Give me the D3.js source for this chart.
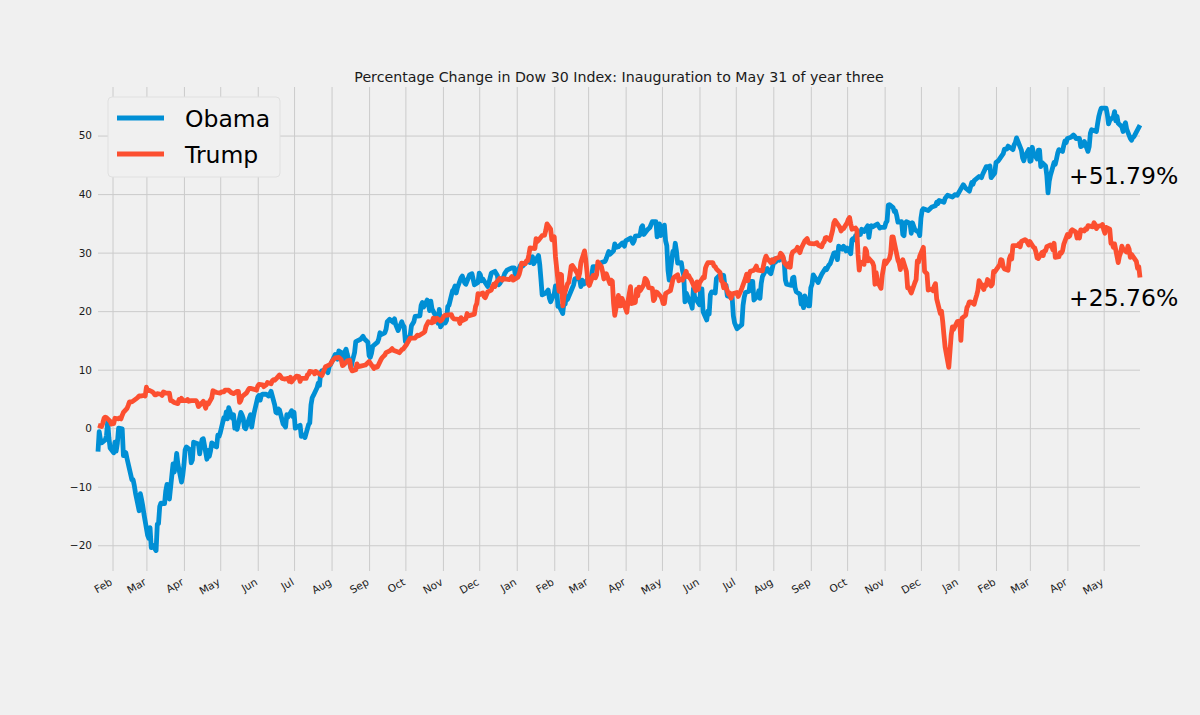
<!DOCTYPE html>
<html><head><meta charset="utf-8">
<script src="https://cdn.jsdelivr.net/npm/d3@7/dist/d3.min.js"></script>
<style>html,body{margin:0;padding:0;background:#f0f0f0;}svg{display:block;font-family:"DejaVu Sans",sans-serif;}</style>
</head><body>
<svg id="chart" width="1200" height="715"></svg>
<script>
// ---------- DATA ----------
const chartTitle = "Percentage Change in Dow 30 Index: Inauguration to May 31 of year three";
const seriesNames = ["Obama", "Trump"];
const seriesColors = ["#008fd5", "#fc4f30"];
const yTickValues = [-20, -10, 0, 10, 20, 30, 40, 50];
const monthLabels = ["Jan","Feb","Mar","Apr","May","Jun","Jul","Aug","Sep","Oct","Nov","Dec"];

// Obama: % change of Dow 30 vs. last close before inauguration (2009-2011)
const obama = [
["2009-01-20",-4.0],["2009-01-21",-0.6],["2009-01-22",-1.9],["2009-01-23",-2.5],["2009-01-26",-2.0],["2009-01-27",-1.3],["2009-01-28",1.1],["2009-01-29",-1.6],["2009-01-30",-3.4],
["2009-02-02",-4.2],["2009-02-03",-2.4],["2009-02-04",-3.9],["2009-02-05",-2.6],["2009-02-06",0.0],["2009-02-09",-0.1],["2009-02-10",-4.7],["2009-02-11",-4.1],["2009-02-12",-4.2],["2009-02-13",-5.2],["2009-02-17",-8.8],["2009-02-18",-8.8],["2009-02-19",-9.8],["2009-02-20",-11.1],["2009-02-23",-14.1],["2009-02-24",-11.2],["2009-02-25",-12.2],["2009-02-26",-13.3],["2009-02-27",-14.7],
["2009-03-02",-18.3],["2009-03-03",-18.8],["2009-03-04",-17.0],["2009-03-05",-20.4],["2009-03-06",-20.0],["2009-03-09",-20.9],["2009-03-10",-16.4],["2009-03-11",-16.3],["2009-03-12",-13.4],["2009-03-13",-12.8],["2009-03-16",-12.9],["2009-03-17",-10.7],["2009-03-18",-9.6],["2009-03-19",-10.6],["2009-03-20",-12.1],["2009-03-23",-6.1],["2009-03-24",-7.5],["2009-03-25",-6.4],["2009-03-26",-4.3],["2009-03-27",-6.1],["2009-03-30",-9.2],["2009-03-31",-8.1],
["2009-04-01",-6.3],["2009-04-02",-3.7],["2009-04-03",-3.2],["2009-04-06",-3.7],["2009-04-07",-5.9],["2009-04-08",-5.4],["2009-04-09",-2.4],["2009-04-13",-2.7],["2009-04-14",-4.4],["2009-04-15",-3.0],["2009-04-16",-1.9],["2009-04-17",-1.8],["2009-04-20",-5.3],["2009-04-21",-3.8],["2009-04-22",-4.8],["2009-04-23",-3.9],["2009-04-24",-2.5],["2009-04-27",-3.1],["2009-04-28",-3.2],["2009-04-29",-1.2],["2009-04-30",-1.4],
["2009-05-01",-0.8],["2009-05-04",1.8],["2009-05-05",1.6],["2009-05-06",2.8],["2009-05-07",1.6],["2009-05-08",3.5],["2009-05-11",1.7],["2009-05-12",2.3],["2009-05-13",0.0],["2009-05-14",0.6],["2009-05-15",-0.2],["2009-05-18",2.7],["2009-05-19",2.3],["2009-05-20",1.7],["2009-05-21",0.1],["2009-05-22",-0.1],["2009-05-26",2.3],["2009-05-27",0.2],["2009-05-28",1.5],["2009-05-29",2.6],
["2009-06-01",5.3],["2009-06-02",5.6],["2009-06-03",4.8],["2009-06-04",5.7],["2009-06-05",5.8],["2009-06-08",5.8],["2009-06-10",5.5],["2009-06-12",6.3],["2009-06-15",4.0],["2009-06-16",2.7],["2009-06-17",2.6],["2009-06-18",3.3],["2009-06-19",3.1],["2009-06-22",0.7],["2009-06-23",0.5],["2009-06-24",0.2],["2009-06-25",2.3],["2009-06-26",1.9],["2009-06-29",3.0],["2009-06-30",2.0],
["2009-07-01",2.7],["2009-07-02",0.0],["2009-07-06",0.5],["2009-07-07",-1.4],["2009-07-08",-1.2],["2009-07-09",-1.2],["2009-07-10",-1.6],["2009-07-13",0.6],["2009-07-14",0.9],["2009-07-15",4.0],["2009-07-16",5.2],["2009-07-17",5.6],["2009-07-20",6.9],["2009-07-21",7.7],["2009-07-22",7.3],["2009-07-23",9.5],["2009-07-24",9.8],["2009-07-27",10.0],["2009-07-29",9.5],["2009-07-30",10.5],["2009-07-31",10.8],
["2009-08-03",12.1],["2009-08-04",12.6],["2009-08-05",12.1],["2009-08-06",11.8],["2009-08-07",13.2],["2009-08-10",12.8],["2009-08-11",11.6],["2009-08-12",13.1],["2009-08-13",13.5],["2009-08-14",12.6],["2009-08-17",10.3],["2009-08-18",11.3],["2009-08-19",12.1],["2009-08-20",12.9],["2009-08-21",14.8],["2009-08-25",15.2],["2009-08-27",15.7],["2009-08-28",15.3],["2009-08-31",14.7],
["2009-09-01",12.4],["2009-09-02",12.1],["2009-09-03",12.8],["2009-09-04",14.0],["2009-09-08",14.7],["2009-09-09",15.3],["2009-09-10",16.3],["2009-09-11",16.0],["2009-09-14",16.3],["2009-09-15",16.9],["2009-09-16",18.2],["2009-09-18",18.6],["2009-09-21",18.1],["2009-09-22",18.7],["2009-09-23",17.7],["2009-09-24",17.2],["2009-09-25",16.7],["2009-09-28",18.2],["2009-09-29",17.6],["2009-09-30",17.3],
["2009-10-01",14.8],["2009-10-02",14.6],["2009-10-05",15.9],["2009-10-06",17.5],["2009-10-08",18.2],["2009-10-09",19.1],["2009-10-13",19.2],["2009-10-14",21.0],["2009-10-15",21.5],["2009-10-16",20.7],["2009-10-19",21.9],["2009-10-20",21.3],["2009-10-21",20.1],["2009-10-22",21.7],["2009-10-23",20.4],["2009-10-26",19.2],["2009-10-27",19.3],["2009-10-28",17.9],["2009-10-29",20.3],["2009-10-30",17.3],
["2009-11-02",18.2],["2009-11-03",18.0],["2009-11-04",18.4],["2009-11-05",20.8],["2009-11-06",21.0],["2009-11-09",23.5],["2009-11-10",23.7],["2009-11-11",24.3],["2009-11-12",23.1],["2009-11-13",24.0],["2009-11-16",25.7],["2009-11-17",26.0],["2009-11-19",24.8],["2009-11-20",24.6],["2009-11-23",26.2],["2009-11-25",26.4],["2009-11-27",24.5],["2009-11-30",24.9],
["2009-12-01",26.5],["2009-12-02",26.2],["2009-12-03",25.2],["2009-12-04",25.5],["2009-12-08",24.2],["2009-12-09",24.8],["2009-12-10",25.7],["2009-12-11",26.5],["2009-12-14",26.8],["2009-12-16",26.1],["2009-12-17",24.5],["2009-12-18",24.7],["2009-12-21",25.8],["2009-12-22",26.4],["2009-12-24",27.0],["2009-12-28",27.4],["2009-12-30",27.4],["2009-12-31",25.9],
["2010-01-04",27.8],["2010-01-06",27.7],["2010-01-08",28.2],["2010-01-11",28.8],["2010-01-12",28.3],["2010-01-14",29.3],["2010-01-15",28.1],["2010-01-19",29.5],["2010-01-20",28.0],["2010-01-21",25.5],["2010-01-22",22.8],["2010-01-25",23.1],["2010-01-27",23.6],["2010-01-28",22.2],["2010-01-29",21.6],
["2010-02-01",23.0],["2010-02-02",24.3],["2010-02-03",24.0],["2010-02-04",20.8],["2010-02-05",20.9],["2010-02-08",19.6],["2010-02-09",21.5],["2010-02-10",21.2],["2010-02-11",22.5],["2010-02-12",22.0],["2010-02-16",24.0],["2010-02-17",24.5],["2010-02-18",25.5],["2010-02-19",25.6],["2010-02-22",25.4],["2010-02-23",24.2],["2010-02-24",25.3],["2010-02-25",24.6],["2010-02-26",24.7],
["2010-03-01",25.6],["2010-03-03",25.6],["2010-03-04",26.1],["2010-03-05",27.6],["2010-03-09",27.6],["2010-03-11",28.1],["2010-03-12",28.3],["2010-03-15",28.5],["2010-03-16",29.0],["2010-03-17",29.6],["2010-03-18",30.2],["2010-03-19",29.7],["2010-03-22",30.3],["2010-03-23",31.5],["2010-03-24",30.9],["2010-03-26",31.0],["2010-03-29",31.6],["2010-03-30",31.7],["2010-03-31",31.1],
["2010-04-01",32.0],["2010-04-05",32.5],["2010-04-07",31.6],["2010-04-08",32.0],["2010-04-09",32.8],["2010-04-12",32.9],["2010-04-13",33.1],["2010-04-14",34.3],["2010-04-15",34.6],["2010-04-16",33.1],["2010-04-19",33.9],["2010-04-21",34.3],["2010-04-23",35.3],["2010-04-26",35.3],["2010-04-27",32.7],["2010-04-28",33.4],["2010-04-29",34.9],["2010-04-30",32.9],
["2010-05-03",34.7],["2010-05-04",32.0],["2010-05-05",31.2],["2010-05-06",27.0],["2010-05-07",25.3],["2010-05-10",30.2],["2010-05-11",29.8],["2010-05-12",31.6],["2010-05-13",30.2],["2010-05-14",28.2],["2010-05-17",28.3],["2010-05-18",26.9],["2010-05-19",26.1],["2010-05-20",21.6],["2010-05-21",23.1],["2010-05-24",21.6],["2010-05-25",21.3],["2010-05-26",20.5],["2010-05-27",23.9],["2010-05-28",22.4],
["2010-06-01",21.1],["2010-06-02",23.8],["2010-06-03",23.8],["2010-06-04",19.9],["2010-06-07",18.5],["2010-06-08",20.0],["2010-06-09",19.5],["2010-06-10",22.8],["2010-06-11",23.3],["2010-06-14",23.1],["2010-06-15",25.6],["2010-06-17",26.0],["2010-06-18",26.2],["2010-06-21",26.1],["2010-06-22",24.3],["2010-06-23",24.4],["2010-06-24",22.6],["2010-06-28",22.4],["2010-06-29",19.2],["2010-06-30",18.0],
["2010-07-01",17.5],["2010-07-02",17.0],["2010-07-06",17.7],["2010-07-07",21.0],["2010-07-08",22.4],["2010-07-09",23.2],["2010-07-12",23.4],["2010-07-13",25.1],["2010-07-15",25.1],["2010-07-16",21.9],["2010-07-19",22.6],["2010-07-20",23.5],["2010-07-21",22.2],["2010-07-22",24.7],["2010-07-23",25.9],["2010-07-26",27.1],["2010-07-27",27.3],["2010-07-28",26.8],["2010-07-30",26.4],
["2010-08-02",28.9],["2010-08-03",28.4],["2010-08-04",29.0],["2010-08-06",28.7],["2010-08-09",29.2],["2010-08-10",28.5],["2010-08-11",25.3],["2010-08-12",24.6],["2010-08-16",24.4],["2010-08-17",25.7],["2010-08-18",25.8],["2010-08-19",24.0],["2010-08-20",23.3],["2010-08-23",22.9],["2010-08-24",21.2],["2010-08-25",21.5],["2010-08-26",20.6],["2010-08-27",22.6],["2010-08-30",20.9],["2010-08-31",20.9],
["2010-09-01",24.0],["2010-09-02",24.6],["2010-09-03",26.2],["2010-09-07",24.9],["2010-09-08",25.4],["2010-09-10",26.3],["2010-09-13",27.3],["2010-09-14",27.1],["2010-09-16",27.9],["2010-09-17",28.1],["2010-09-20",29.9],["2010-09-21",30.0],["2010-09-22",29.7],["2010-09-23",28.8],["2010-09-24",31.1],["2010-09-27",30.6],["2010-09-28",31.1],["2010-09-30",30.3],
["2010-10-01",30.8],["2010-10-04",29.8],["2010-10-05",32.2],["2010-10-06",32.4],["2010-10-07",32.2],["2010-10-08",32.9],["2010-10-12",33.1],["2010-10-13",34.0],["2010-10-15",33.6],["2010-10-18",34.6],["2010-10-19",32.6],["2010-10-20",34.1],["2010-10-21",34.6],["2010-10-22",34.4],["2010-10-26",34.9],["2010-10-28",34.2],["2010-10-29",34.3],
["2010-11-01",34.3],["2010-11-02",35.1],["2010-11-03",35.4],["2010-11-04",38.1],["2010-11-05",38.2],["2010-11-08",37.7],["2010-11-09",37.0],["2010-11-10",37.1],["2010-11-11",36.3],["2010-11-12",35.2],["2010-11-15",35.3],["2010-11-16",33.1],["2010-11-17",32.9],["2010-11-18",35.0],["2010-11-19",35.3],["2010-11-22",35.0],["2010-11-23",33.3],["2010-11-24",35.1],["2010-11-26",33.9],["2010-11-29",33.5],["2010-11-30",32.9],
["2010-12-01",35.9],["2010-12-02",37.2],["2010-12-03",37.5],["2010-12-07",37.2],["2010-12-10",37.8],["2010-12-13",38.0],["2010-12-14",38.6],["2010-12-15",38.4],["2010-12-16",38.9],["2010-12-20",38.6],["2010-12-21",39.3],["2010-12-23",39.8],["2010-12-27",39.5],["2010-12-29",39.9],["2010-12-31",39.8],
["2011-01-03",40.9],["2011-01-05",41.6],["2011-01-07",41.0],["2011-01-10",40.5],["2011-01-12",42.0],["2011-01-13",41.7],["2011-01-14",42.3],["2011-01-18",43.0],["2011-01-20",42.8],["2011-01-21",43.4],["2011-01-24",44.7],["2011-01-26",44.7],["2011-01-27",44.8],["2011-01-28",42.8],["2011-01-31",43.6],
["2011-02-01",45.4],["2011-02-03",45.7],["2011-02-04",46.0],["2011-02-07",46.9],["2011-02-08",47.7],["2011-02-10",47.7],["2011-02-11",48.2],["2011-02-15",47.6],["2011-02-16",48.4],["2011-02-17",48.8],["2011-02-18",49.6],["2011-02-22",47.5],["2011-02-23",46.2],["2011-02-24",45.7],["2011-02-25",46.5],["2011-02-28",47.6],
["2011-03-01",45.6],["2011-03-02",45.7],["2011-03-03",48.0],["2011-03-04",47.0],["2011-03-07",46.0],["2011-03-08",47.5],["2011-03-09",47.5],["2011-03-10",44.7],["2011-03-11",45.4],["2011-03-14",44.8],["2011-03-15",43.2],["2011-03-16",40.2],["2011-03-17",42.2],["2011-03-18",43.2],["2011-03-21",45.4],["2011-03-22",45.1],["2011-03-23",46.0],["2011-03-24",47.0],["2011-03-25",47.6],["2011-03-28",47.3],["2011-03-29",48.3],["2011-03-30",49.1],["2011-03-31",48.8],
["2011-04-01",49.5],["2011-04-04",49.7],["2011-04-06",50.1],["2011-04-07",49.9],["2011-04-08",49.5],["2011-04-11",49.5],["2011-04-12",48.1],["2011-04-13",48.2],["2011-04-14",48.4],["2011-04-15",49.0],["2011-04-18",47.3],["2011-04-19",48.1],["2011-04-20",50.4],["2011-04-21",51.0],["2011-04-25",50.7],["2011-04-26",52.1],["2011-04-27",53.3],["2011-04-28",54.1],["2011-04-29",54.7],
["2011-05-02",54.7],["2011-05-03",54.7],["2011-05-04",53.6],["2011-05-05",52.0],["2011-05-06",52.6],["2011-05-09",53.2],["2011-05-10",54.1],["2011-05-11",52.5],["2011-05-12",53.3],["2011-05-13",52.1],["2011-05-16",51.5],["2011-05-17",50.7],["2011-05-18",51.7],["2011-05-19",52.2],["2011-05-20",51.1],["2011-05-23",49.5],["2011-05-24",49.2],["2011-05-25",49.7],["2011-05-26",49.8],["2011-05-27",50.2],["2011-05-31",51.79]
];

// Trump: % change of Dow 30 vs. last close before inauguration (2017-2019), drawn on the same calendar
const trump = [
["2017-01-20",0.5],["2017-01-23",0.3],["2017-01-24",0.9],["2017-01-25",1.7],["2017-01-26",1.9],["2017-01-27",1.8],["2017-01-30",1.2],["2017-01-31",0.7],["2017-02-01",0.8],["2017-02-02",0.8],["2017-02-03",1.7],["2017-02-06",1.6],["2017-02-07",1.8],["2017-02-08",1.6],["2017-02-09",2.2],["2017-02-10",2.7],["2017-02-13",3.4],["2017-02-14",3.9],["2017-02-15",4.5],["2017-02-17",4.5],["2017-02-21",5.1],["2017-02-22",5.3],["2017-02-23",5.5],["2017-02-24",5.5],["2017-02-27",5.6],["2017-02-28",5.5],
["2017-03-01",7.0],["2017-03-02",6.4],["2017-03-03",6.5],["2017-03-06",6.2],["2017-03-07",6.0],["2017-03-08",5.7],["2017-03-09",5.7],["2017-03-10",5.9],["2017-03-13",5.8],["2017-03-14",5.6],["2017-03-15",6.2],["2017-03-16",6.1],["2017-03-17",6.0],["2017-03-20",6.0],["2017-03-21",4.7],["2017-03-22",4.7],["2017-03-24",4.4],["2017-03-27",4.2],["2017-03-28",4.9],["2017-03-29",4.7],["2017-03-30",5.1],["2017-03-31",4.7],
["2017-04-03",4.7],["2017-04-04",4.9],["2017-04-05",4.6],["2017-04-07",4.7],["2017-04-11",4.7],["2017-04-12",4.4],["2017-04-13",3.7],["2017-04-17",4.6],["2017-04-18",4.0],["2017-04-19",3.4],["2017-04-20",4.3],["2017-04-21",4.1],["2017-04-24",5.2],["2017-04-25",6.4],["2017-04-26",6.3],["2017-04-28",6.1],
["2017-05-01",6.0],["2017-05-02",6.2],["2017-05-04",6.2],["2017-05-05",6.5],["2017-05-08",6.5],["2017-05-10",6.1],["2017-05-12",5.9],["2017-05-15",6.3],["2017-05-16",6.3],["2017-05-17",4.4],["2017-05-18",4.7],["2017-05-19",5.4],["2017-05-22",5.9],["2017-05-23",6.1],["2017-05-24",6.5],["2017-05-25",6.8],["2017-05-26",6.8],["2017-05-30",6.6],["2017-05-31",6.5],
["2017-06-01",7.2],["2017-06-02",7.5],["2017-06-05",7.4],["2017-06-06",7.1],["2017-06-08",7.4],["2017-06-09",7.8],["2017-06-12",7.6],["2017-06-13",8.1],["2017-06-14",8.3],["2017-06-15",8.2],["2017-06-16",8.4],["2017-06-19",9.1],["2017-06-20",8.8],["2017-06-21",8.5],["2017-06-23",8.4],["2017-06-26",8.5],["2017-06-27",8.0],["2017-06-28",8.7],["2017-06-29",7.9],["2017-06-30",8.2],
["2017-07-03",8.9],["2017-07-05",8.8],["2017-07-06",8.0],["2017-07-07",8.5],["2017-07-11",8.5],["2017-07-12",9.1],["2017-07-13",9.2],["2017-07-14",9.7],["2017-07-17",9.6],["2017-07-18",9.3],["2017-07-19",9.7],["2017-07-21",9.4],["2017-07-24",9.0],["2017-07-25",9.5],["2017-07-26",10.0],["2017-07-27",10.5],["2017-07-28",10.6],["2017-07-31",10.9],
["2017-08-01",11.3],["2017-08-02",11.6],["2017-08-04",12.0],["2017-08-07",12.1],["2017-08-08",11.9],["2017-08-09",11.7],["2017-08-10",10.7],["2017-08-11",10.8],["2017-08-14",11.5],["2017-08-16",11.6],["2017-08-17",10.2],["2017-08-18",9.8],["2017-08-21",10.0],["2017-08-22",11.0],["2017-08-23",10.5],["2017-08-25",10.6],["2017-08-29",10.8],["2017-08-31",11.2],
["2017-09-01",11.4],["2017-09-05",10.2],["2017-09-06",10.5],["2017-09-07",10.4],["2017-09-08",10.5],["2017-09-11",11.8],["2017-09-12",12.1],["2017-09-14",12.5],["2017-09-15",12.9],["2017-09-18",13.2],["2017-09-20",13.6],["2017-09-21",13.3],["2017-09-25",13.0],["2017-09-26",12.9],["2017-09-28",13.4],["2017-09-29",13.5],
["2017-10-02",14.3],["2017-10-03",14.7],["2017-10-05",15.4],["2017-10-09",15.4],["2017-10-11",15.9],["2017-10-12",15.8],["2017-10-16",16.3],["2017-10-17",16.5],["2017-10-18",17.4],["2017-10-20",18.2],["2017-10-23",18.0],["2017-10-24",18.8],["2017-10-25",18.2],["2017-10-27",18.8],["2017-10-30",18.3],["2017-10-31",18.5],
["2017-11-02",19.2],["2017-11-03",19.3],["2017-11-08",19.4],["2017-11-09",18.9],["2017-11-10",18.7],["2017-11-14",18.6],["2017-11-15",17.9],["2017-11-16",18.9],["2017-11-17",18.4],["2017-11-20",18.7],["2017-11-21",19.6],["2017-11-22",19.2],["2017-11-27",19.5],["2017-11-28",20.8],["2017-11-29",21.3],["2017-11-30",23.0],
["2017-12-01",22.8],["2017-12-04",23.1],["2017-12-05",22.5],["2017-12-06",22.3],["2017-12-08",23.3],["2017-12-11",23.6],["2017-12-12",24.2],["2017-12-13",24.6],["2017-12-14",24.2],["2017-12-15",24.9],["2017-12-18",25.6],["2017-12-20",25.3],["2017-12-21",25.6],["2017-12-22",25.5],["2017-12-26",25.4],["2017-12-28",25.9],["2017-12-29",25.3],
["2018-01-02",25.8],["2018-01-03",26.3],["2018-01-04",27.1],["2018-01-05",28.2],["2018-01-08",28.1],["2018-01-09",28.6],["2018-01-10",28.6],["2018-01-11",29.6],["2018-01-12",30.8],["2018-01-16",30.7],["2018-01-17",32.4],["2018-01-18",31.9],["2018-01-19",32.1],["2018-01-22",32.9],["2018-01-24",33.0],["2018-01-25",33.8],["2018-01-26",34.9],["2018-01-29",34.0],["2018-01-30",32.2],["2018-01-31",32.5],
["2018-02-01",32.7],["2018-02-02",29.3],["2018-02-05",23.4],["2018-02-06",26.3],["2018-02-07",26.2],["2018-02-08",20.9],["2018-02-09",22.6],["2018-02-12",24.7],["2018-02-13",24.9],["2018-02-14",26.2],["2018-02-15",27.7],["2018-02-16",27.8],["2018-02-20",26.5],["2018-02-21",25.7],["2018-02-22",26.5],["2018-02-23",28.3],["2018-02-26",30.3],["2018-02-27",28.8],["2018-02-28",26.8],
["2018-03-01",24.7],["2018-03-02",24.4],["2018-03-05",26.1],["2018-03-06",26.1],["2018-03-07",25.7],["2018-03-08",26.2],["2018-03-09",28.4],["2018-03-12",27.6],["2018-03-13",26.7],["2018-03-14",25.5],["2018-03-15",26.1],["2018-03-16",26.4],["2018-03-19",24.7],["2018-03-20",25.3],["2018-03-21",25.1],["2018-03-22",21.4],["2018-03-23",19.3],["2018-03-26",22.7],["2018-03-27",20.9],["2018-03-28",20.9],["2018-03-29",22.2],
["2018-04-02",19.8],["2018-04-03",21.8],["2018-04-04",23.0],["2018-04-05",24.2],["2018-04-06",21.3],["2018-04-09",21.5],["2018-04-10",23.7],["2018-04-11",22.6],["2018-04-12",24.1],["2018-04-13",23.5],["2018-04-16",24.5],["2018-04-17",25.6],["2018-04-18",25.4],["2018-04-19",25.0],["2018-04-20",24.0],["2018-04-23",23.9],["2018-04-24",21.8],["2018-04-25",22.1],["2018-04-26",23.3],["2018-04-27",23.2],["2018-04-30",22.5],
["2018-05-01",22.1],["2018-05-02",21.3],["2018-05-03",21.3],["2018-05-04",23.0],["2018-05-07",23.4],["2018-05-08",23.5],["2018-05-09",24.4],["2018-05-10",25.4],["2018-05-11",25.8],["2018-05-14",26.2],["2018-05-15",25.2],["2018-05-16",25.5],["2018-05-18",25.3],["2018-05-21",26.8],["2018-05-22",25.9],["2018-05-23",26.1],["2018-05-24",25.7],["2018-05-25",25.4],["2018-05-29",23.5],["2018-05-30",25.0],["2018-05-31",23.7],
["2018-06-01",24.8],["2018-06-04",25.8],["2018-06-05",25.7],["2018-06-06",27.4],["2018-06-07",27.9],["2018-06-08",28.3],["2018-06-11",28.3],["2018-06-12",28.3],["2018-06-13",27.7],["2018-06-14",27.6],["2018-06-15",27.2],["2018-06-18",26.6],["2018-06-19",25.2],["2018-06-20",25.0],["2018-06-21",24.0],["2018-06-22",24.6],["2018-06-25",22.9],["2018-06-26",23.1],["2018-06-27",22.2],["2018-06-28",22.7],["2018-06-29",23.0],
["2018-07-02",23.2],["2018-07-03",22.5],["2018-07-05",23.4],["2018-07-06",23.9],["2018-07-09",25.6],["2018-07-10",26.3],["2018-07-11",25.2],["2018-07-12",26.3],["2018-07-13",26.8],["2018-07-16",27.0],["2018-07-17",27.3],["2018-07-18",27.7],["2018-07-19",27.0],["2018-07-23",26.9],["2018-07-24",27.9],["2018-07-25",28.8],["2018-07-26",29.4],["2018-07-27",29.0],["2018-07-30",28.3],["2018-07-31",28.8],
["2018-08-01",28.4],["2018-08-03",29.0],["2018-08-06",29.2],["2018-08-07",29.9],["2018-08-08",29.7],["2018-08-09",29.3],["2018-08-10",28.3],["2018-08-13",27.6],["2018-08-14",28.2],["2018-08-15",27.5],["2018-08-16",29.5],["2018-08-17",30.1],["2018-08-20",30.5],["2018-08-21",30.9],["2018-08-22",30.4],["2018-08-23",30.0],["2018-08-24",30.7],["2018-08-27",32.0],["2018-08-29",32.4],["2018-08-30",31.7],["2018-08-31",31.6],
["2018-09-04",31.5],["2018-09-06",31.7],["2018-09-07",31.3],["2018-09-10",31.0],["2018-09-11",31.6],["2018-09-12",31.8],["2018-09-13",32.5],["2018-09-14",32.6],["2018-09-17",32.1],["2018-09-18",33.0],["2018-09-19",33.8],["2018-09-20",35.1],["2018-09-21",35.5],["2018-09-24",34.6],["2018-09-25",34.3],["2018-09-26",33.7],["2018-09-27",34.0],["2018-09-28",34.1],
["2018-10-01",35.1],["2018-10-02",35.7],["2018-10-03",36.0],["2018-10-04",34.9],["2018-10-05",34.0],["2018-10-08",34.2],["2018-10-09",33.9],["2018-10-10",29.7],["2018-10-11",27.0],["2018-10-12",28.4],["2018-10-15",28.0],["2018-10-16",30.7],["2018-10-17",30.3],["2018-10-18",28.6],["2018-10-19",29.0],["2018-10-22",28.3],["2018-10-23",27.7],["2018-10-24",24.6],["2018-10-25",26.6],["2018-10-26",25.1],["2018-10-29",23.9],["2018-10-30",26.1],["2018-10-31",27.3],
["2018-11-01",28.6],["2018-11-02",28.1],["2018-11-05",29.0],["2018-11-06",29.9],["2018-11-07",32.7],["2018-11-08",32.7],["2018-11-09",31.7],["2018-11-12",28.7],["2018-11-13",28.2],["2018-11-14",27.1],["2018-11-15",28.2],["2018-11-16",28.8],["2018-11-19",26.8],["2018-11-20",24.0],["2018-11-21",24.0],["2018-11-23",23.1],["2018-11-26",24.9],["2018-11-27",25.4],["2018-11-28",28.6],["2018-11-29",28.4],["2018-11-30",29.4],
["2018-12-03",30.9],["2018-12-04",26.8],["2018-12-06",26.4],["2018-12-07",23.6],["2018-12-10",23.8],["2018-12-11",23.5],["2018-12-12",24.3],["2018-12-13",24.7],["2018-12-14",22.1],["2018-12-17",19.6],["2018-12-18",20.0],["2018-12-19",18.2],["2018-12-20",15.9],["2018-12-21",13.8],["2018-12-24",10.4],["2018-12-26",15.9],["2018-12-27",17.3],["2018-12-28",16.9],["2018-12-31",18.2],
["2019-01-02",18.3],["2019-01-03",15.0],["2019-01-04",18.8],["2019-01-07",19.3],["2019-01-08",20.6],["2019-01-09",21.0],["2019-01-10",21.6],["2019-01-11",21.6],["2019-01-14",21.2],["2019-01-15",22.0],["2019-01-16",22.7],["2019-01-17",23.5],["2019-01-18",25.2],["2019-01-22",23.7],["2019-01-23",24.5],["2019-01-24",24.4],["2019-01-25",25.4],["2019-01-28",24.3],["2019-01-29",24.6],["2019-01-30",26.8],["2019-01-31",26.7],
["2019-02-01",27.0],["2019-02-04",27.9],["2019-02-05",28.8],["2019-02-06",28.7],["2019-02-07",27.6],["2019-02-08",27.2],["2019-02-11",27.0],["2019-02-12",28.9],["2019-02-13",29.5],["2019-02-14",28.9],["2019-02-15",31.2],["2019-02-19",31.2],["2019-02-20",31.5],["2019-02-21",31.0],["2019-02-22",31.9],["2019-02-25",32.2],["2019-02-26",32.1],["2019-02-27",31.7],["2019-02-28",31.3],
["2019-03-01",31.9],["2019-03-04",30.9],["2019-03-05",30.8],["2019-03-06",30.1],["2019-03-07",29.1],["2019-03-08",29.0],["2019-03-11",30.0],["2019-03-12",29.5],["2019-03-13",30.3],["2019-03-14",30.3],["2019-03-15",31.0],["2019-03-18",31.3],["2019-03-19",31.2],["2019-03-20",30.5],["2019-03-21",31.6],["2019-03-22",29.2],["2019-03-25",29.3],["2019-03-26",30.0],["2019-03-27",29.9],["2019-03-28",30.3],["2019-03-29",31.4],
["2019-04-01",33.1],["2019-04-02",32.7],["2019-04-03",32.9],["2019-04-04",33.7],["2019-04-05",33.9],["2019-04-08",33.5],["2019-04-09",32.5],["2019-04-10",32.6],["2019-04-11",32.5],["2019-04-12",33.9],["2019-04-15",33.7],["2019-04-16",34.1],["2019-04-17",34.0],["2019-04-18",34.6],["2019-04-22",34.4],["2019-04-23",35.1],["2019-04-24",34.8],["2019-04-25",34.1],["2019-04-26",34.5],["2019-04-29",34.6],["2019-04-30",34.8],
["2019-05-01",33.9],["2019-05-02",33.3],["2019-05-03",34.3],["2019-05-06",34.0],["2019-05-07",31.6],["2019-05-08",31.6],["2019-05-09",30.9],["2019-05-10",31.5],["2019-05-13",28.3],["2019-05-14",29.4],["2019-05-15",30.0],["2019-05-16",31.1],["2019-05-17",30.6],["2019-05-20",30.1],["2019-05-21",31.1],["2019-05-22",30.6],["2019-05-23",29.2],["2019-05-24",29.7],["2019-05-28",28.5],["2019-05-29",27.3],["2019-05-30",27.6],["2019-05-31",25.76]
];
const yearOffsets = [0, -8]; // Trump dates are shifted onto the Obama calendar

// ---------- DRAWING ----------
const svg = d3.select("#chart");
const plot = {left: 98, right: 1140, top: 87, bottom: 571};
const parse = d3.timeParse("%Y-%m-%d");
const series = [obama, trump].map((arr, i) => ({
  name: seriesNames[i], color: seriesColors[i],
  points: arr.map(([d, v]) => ({date: d3.timeYear.offset(parse(d), yearOffsets[i]), value: v}))
}));

const x = d3.scaleTime()
  .domain(d3.extent(series[0].points, p => p.date))
  .range([plot.left, plot.right]);
const y = d3.scaleLinear().domain([-24.4, 58.3]).range([plot.bottom, plot.top]);

svg.append("rect").attr("width", 1200).attr("height", 715).attr("fill", "#f0f0f0");

// Y grid + labels
const yAxis = d3.axisLeft(y).tickValues(yTickValues)
  .tickSize(-(plot.right - plot.left)).tickPadding(6)
  .tickFormat(d => d < 0 ? "\u2212" + Math.abs(d) : String(d));
const gy = svg.append("g").attr("transform", `translate(${plot.left},0)`).call(yAxis);
gy.select(".domain").remove();
gy.selectAll(".tick line").attr("stroke", "#cbcbcb").attr("stroke-width", 1);
gy.selectAll(".tick text").attr("fill", "#1a1a1a").style("font-size", "10.5px")
  .style("font-family", '"DejaVu Sans", sans-serif');

// X grid + labels
const xAxis = d3.axisBottom(x).ticks(d3.timeMonth.every(1))
  .tickFormat(d => monthLabels[d.getMonth()])
  .tickSize(-(plot.bottom - plot.top)).tickPadding(0);
const gx = svg.append("g").attr("transform", `translate(0,${plot.bottom})`).call(xAxis);
gx.select(".domain").remove();
gx.selectAll(".tick line").attr("stroke", "#cbcbcb").attr("stroke-width", 1);
gx.selectAll(".tick text")
  .attr("x", 0).attr("y", 0).attr("dy", "0.78em")
  .attr("text-anchor", "end")
  .attr("transform", "translate(-4,6) rotate(-30)")
  .attr("fill", "#1a1a1a").style("font-size", "10.5px")
  .style("font-family", '"DejaVu Sans", sans-serif');

// Lines
const line = d3.line().x(p => x(p.date)).y(p => y(p.value));
svg.append("g").selectAll("path").data(series).join("path")
  .attr("d", s => line(s.points))
  .attr("fill", "none").attr("stroke", s => s.color)
  .attr("stroke-width", 4.8).attr("stroke-linejoin", "round");

// Title
svg.append("text").attr("x", (plot.left + plot.right) / 2).attr("y", 82)
  .attr("text-anchor", "middle").attr("fill", "#1a1a1a")
  .style("font-size", "14.2px").text(chartTitle);

// Final-value annotations
const annoY = [184, 306];
series.forEach((s, i) => {
  const last = s.points[s.points.length - 1].value;
  svg.append("text").attr("x", 1069).attr("y", annoY[i])
    .attr("fill", "#000").style("font-size", "23.5px")
    .text("+" + last.toFixed(2) + "%");
});

// Legend
const lg = svg.append("g");
lg.append("rect").attr("x", 108).attr("y", 97).attr("width", 172).attr("height", 80)
  .attr("rx", 4).attr("fill", "#f0f0f0").attr("stroke", "#e0e0e0").attr("stroke-width", 1);
const legY = [118, 154];
series.forEach((s, i) => {
  lg.append("line").attr("x1", 117).attr("x2", 164).attr("y1", legY[i]).attr("y2", legY[i])
    .attr("stroke", s.color).attr("stroke-width", 4.8);
  lg.append("text").attr("x", 185).attr("y", legY[i] + 8.5).attr("fill", "#000")
    .style("font-size", "23.5px").text(s.name);
});
</script>
</body></html>
